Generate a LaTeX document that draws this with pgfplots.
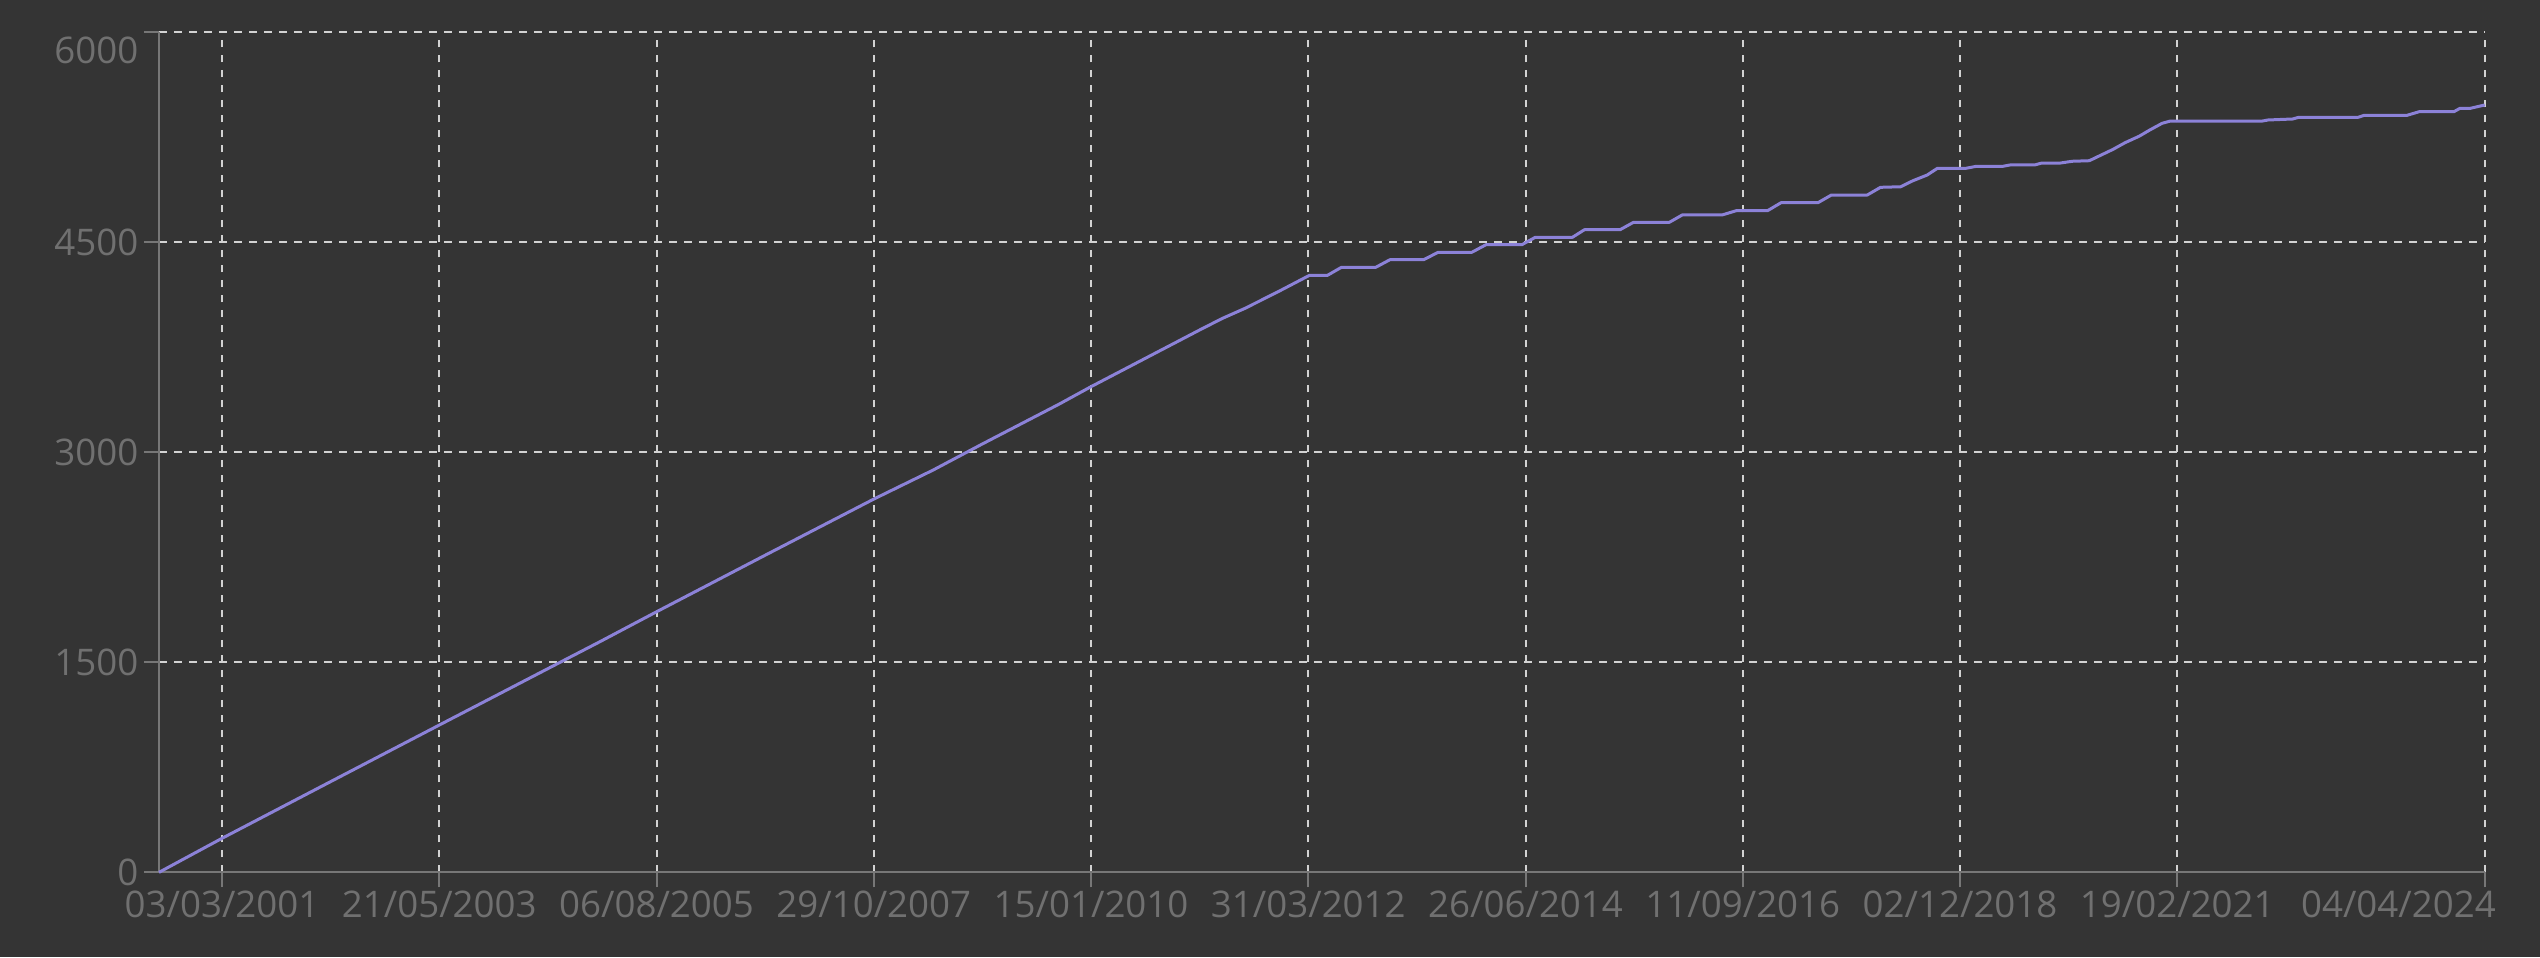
\documentclass[border=0pt]{standalone}
\usepackage{fontspec}
\setmainfont{Open Sans}
\usepackage{pgfplots}
\pgfplotsset{compat=1.18}
\definecolor{bg}{HTML}{343434}
\definecolor{linec}{HTML}{8C82D8}
\definecolor{gridc}{HTML}{D2D2D2}
\definecolor{axc}{HTML}{777777}
\definecolor{labc}{HTML}{707070}
\pgfplotsset{
  layers/mylayers/.define layer set={axis background,axis lines,axis grid,axis ticks,axis tick labels,pre main,main,axis descriptions,axis foreground}{},
}
\begin{document}
\begin{tikzpicture}
\fill[bg] (-47.7pt,-25.4pt) rectangle (714.3pt,261.7pt);
\begin{axis}[
  set layers=mylayers,
  at={(0pt,0pt)}, anchor=south west,
  scale only axis,
  width=697.7pt, height=252pt,
  xmin=-0.29, xmax=10.415,
  ymin=0, ymax=6000,
  axis x line*=bottom, axis y line*=left,
  axis line style={axc, line width=0.6pt},
  every tick/.style={axc, line width=0.6pt},
  tick align=outside, major tick length=4.5pt,
  xtick={0,1,2,3,4,5,6,7,8,9,10.415},
  xticklabels={03/03/2001,21/05/2003,06/08/2005,29/10/2007,15/01/2010,31/03/2012,26/06/2014,11/09/2016,02/12/2018,19/02/2021,\makebox[6.6pt][r]{04/04/2024}},
  ytick={0,1500,3000,4500,6000},
  yticklabels={0,1500,3000,4500,\raisebox{-5.4pt}[\height][\depth]{6000}},
  tick label style={labc, font=\fontsize{11}{13}\selectfont},
  xticklabel style={inner sep=1pt},
  yticklabel style={inner sep=1.5pt},
  grid=major,
  major grid style={gridc, line width=0.6pt, dash pattern=on 2.3pt off 2.2pt},
  clip=false,
]
\addplot[linec, line width=0.9pt, line join=round] coordinates {
(-0.29,0) (0,243) (0.5,648) (1,1052) (1.5,1455) (1.739,1647) (2,1861)
(2.5,2265) (3,2666) (3.274,2874) (3.5,3060) (3.854,3345) (4,3469)
(4.5,3874) (4.605,3957) (4.708,4028) (4.862,4148) (5.005,4264)
(5.088,4264) (5.152,4321) (5.310,4321) (5.376,4376) (5.531,4376)
(5.598,4429) (5.753,4429) (5.818,4483) (5.983,4483) (6.045,4536)
(6.216,4536) (6.271,4590) (6.435,4590) (6.497,4643) (6.662,4643)
(6.723,4697) (6.908,4697) (6.970,4726) (7.114,4726) (7.176,4783)
(7.346,4783) (7.408,4838) (7.573,4838) (7.634,4893) (7.727,4897)
(7.783,4940) (7.849,4981) (7.896,5029) (8.028,5029) (8.075,5043)
(8.197,5043) (8.235,5054) (8.347,5054) (8.375,5066) (8.460,5066)
(8.516,5079) (8.595,5083) (8.704,5164) (8.760,5212) (8.826,5259)
(8.873,5302) (8.930,5350) (8.967,5366) (9.390,5366) (9.418,5374)
(9.531,5381) (9.559,5393) (9.832,5393) (9.860,5407) (10.057,5407)
(10.113,5433) (10.273,5433) (10.301,5457) (10.348,5457) (10.415,5481)
};
\end{axis}
\pgfresetboundingbox
\path (-47.7pt,-25.4pt) rectangle (714.3pt,261.7pt);
\end{tikzpicture}
\end{document}
